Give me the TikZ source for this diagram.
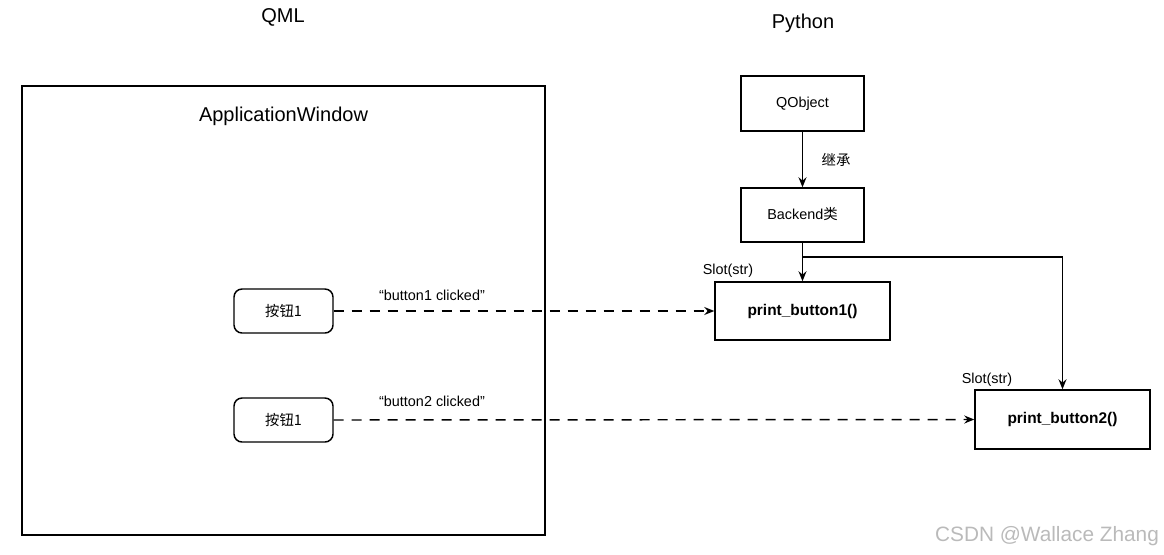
\documentclass[tikz,border=0pt]{standalone}
\usepackage{fontspec}
\setmainfont{Liberation Sans}
\newfontfamily\cjk{Noto Sans CJK SC}
\usetikzlibrary{arrows.meta,calc}
\tikzset{
  box/.style={draw, line width=1.1pt, rectangle, inner sep=0pt, text height=0.8em, text depth=0.15em, font=\fontsize{10.8pt}{12pt}\selectfont},
  bigbox/.style={draw, line width=1.1pt, rectangle, inner sep=0pt, text height=0.8em, text depth=0.15em, font=\bfseries\fontsize{11.6pt}{13pt}\selectfont},
  btn/.style={draw, line width=1.1pt, rectangle, rounded corners=6pt, inner sep=0pt, font=\cjk\fontsize{10.8pt}{12pt}\selectfont},
  title/.style={font=\fontsize{15pt}{17pt}\selectfont, inner sep=0pt},
  lbl/.style={font=\fontsize{10.8pt}{12pt}\selectfont, inner sep=0pt},
  arr/.style={line width=1.1pt, -{Stealth[length=7.5pt,width=6pt,inset=2.5pt]}},
  dasharr/.style={arr, dash pattern=on 7.5pt off 6pt},
}
\begin{document}
\begin{tikzpicture}[x=0.75pt,y=-0.75pt]
\useasboundingbox (0,0) rectangle (1164,554);
\node[title] (qml) at (283,17.5) {QML};
\node[title] (py) at (803,23.5) {Python};
\node[draw, line width=1.1pt, minimum width={523*0.75pt}, minimum height={449*0.75pt}, inner sep=0pt] (app) at (283.5,310.5) {};
\node[title] (apptitle) at (283.5,116) {ApplicationWindow};
\node[box, minimum width={123*0.75pt}, minimum height={55*0.75pt}] (qobj) at (802.5,103.5) {QObject};
\node[box, minimum width={123*0.75pt}, minimum height={54*0.75pt}] (backend) at (802.5,215) {Backend{\cjk 类}};
\node[bigbox, minimum width={175*0.75pt}, minimum height={58*0.75pt}] (pb1) at (802.5,311) {print\_button1()};
\node[bigbox, minimum width={175*0.75pt}, minimum height={59*0.75pt}] (pb2) at (1062.5,419.5) {print\_button2()};
\node[btn, minimum width={99*0.75pt}, minimum height={44*0.75pt}] (btn1) at (283.5,311) {按钮1};
\node[btn, minimum width={99*0.75pt}, minimum height={44*0.75pt}] (btn2) at (283.5,420) {按钮1};
\node[lbl] (inh) at (836,159.5) {\cjk 继承};
\node[lbl] (slot1) at (728,271) {Slot(str)};
\node[lbl] (slot2) at (987,380) {Slot(str)};
\node[lbl] (c1) at (432,295) {“button1 clicked"};
\node[lbl] (c2) at (432,401) {“button2 clicked"};
\node[font=\fontsize{15.6pt}{17pt}\selectfont, text=black!27, inner sep=0pt] (wm) at (1047,536) {CSDN @Wallace Zhang};
\draw[arr] (qobj.south) -- (backend.north);
\draw[arr] (backend.south) -- (pb1.north);
\coordinate (br) at (802.5,257);
\draw[arr] (br) -| (pb2.north);
\draw[dasharr] (btn1.east) -- (pb1.west);
\draw[dasharr] (btn2.east) -- (pb2.west);
\end{tikzpicture}
\end{document}
